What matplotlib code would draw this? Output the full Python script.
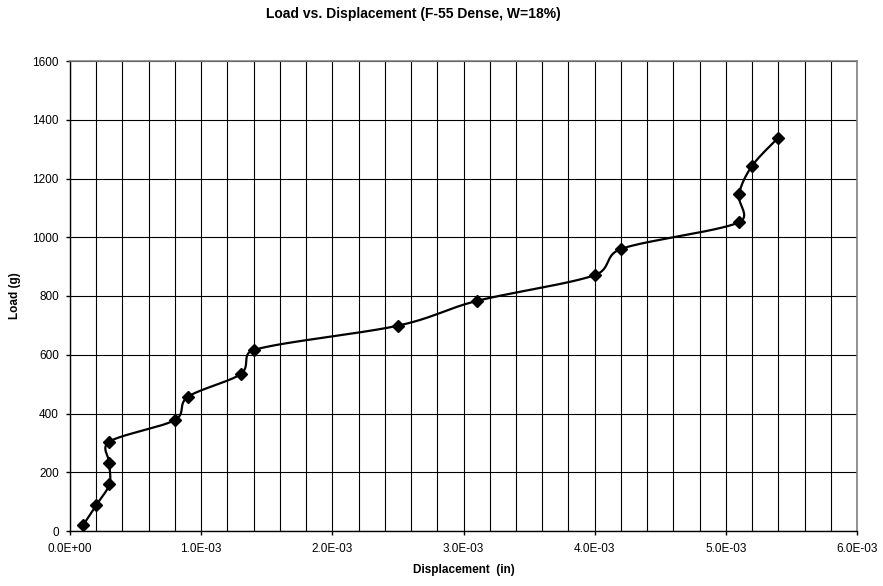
import numpy as np
import matplotlib
matplotlib.use("Agg")
import matplotlib.pyplot as plt
from matplotlib.ticker import MultipleLocator, FuncFormatter

plt.rcParams['font.family'] = ['Liberation Sans', 'DejaVu Sans']

displacement = [0.1e-3, 0.2e-3, 0.3e-3, 0.3e-3, 0.3e-3, 0.8e-3, 0.9e-3, 1.3e-3,
                1.4e-3, 2.5e-3, 3.1e-3, 4.0e-3, 4.2e-3, 5.1e-3, 5.1e-3, 5.2e-3, 5.4e-3]
load = [20, 88, 159, 230, 304, 378, 457, 534, 616, 699, 783, 871, 960,
        1051, 1147, 1243, 1339]

title = "Load vs. Displacement (F-55 Dense, W=18%)"
xlabel = "Displacement  (in)"
ylabel = "Load (g)"

fig = plt.figure(figsize=(8.83, 5.86), dpi=100)
W, H = 883, 586
ax = fig.add_axes([70 / W, 1 - 531 / H, (857 - 70) / W, (531 - 61) / H])

ax.set_xlim(0, 6e-3)
ax.set_ylim(0, 1600)
ax.xaxis.set_major_locator(MultipleLocator(1e-3))
ax.xaxis.set_minor_locator(MultipleLocator(0.2e-3))
ax.yaxis.set_major_locator(MultipleLocator(200))
ax.xaxis.set_major_formatter(FuncFormatter(lambda v, p: "0.0E+00" if abs(v) < 1e-12 else f"{v:.1E}"))

ax.grid(True, which='major', color='black', linewidth=0.8)
ax.grid(True, which='minor', axis='x', color='black', linewidth=0.8)
ax.set_axisbelow(True)
ax.tick_params(axis='both', which='major', direction='out', length=3, width=1,
               labelsize=8.5, colors='black')
ax.tick_params(axis='x', which='major', pad=6)
ax.tick_params(axis='y', which='major', pad=5)
ax.tick_params(axis='x', which='minor', length=0)
for s in ('top', 'right'):
    ax.spines[s].set_color('#808080')
    ax.spines[s].set_linewidth(1.2)
for s in ('left', 'bottom'):
    ax.spines[s].set_color('black')
    ax.spines[s].set_linewidth(1.0)

# Smoothed curve: Bezier segments in screen space; each handle is a sixth of
# the neighbour-to-neighbour chord, capped at half the segment length
fig.canvas.draw()
pts = ax.transData.transform(np.column_stack([displacement, load]))
n = len(pts)
curve = [pts[0]]
t = np.linspace(0, 1, 40)[1:]


def capped(vec, limit):
    length = np.hypot(*vec)
    if length > limit and length > 0:
        return vec * (limit / length)
    return vec


for i in range(n - 1):
    p0 = pts[i - 1] if i > 0 else pts[i]
    p1 = pts[i]
    p2 = pts[i + 1]
    p3 = pts[i + 2] if i + 2 < n else pts[i + 1]
    seg_len = np.hypot(*(p2 - p1))
    c1 = p1 + capped((p2 - p0) / 6.0, seg_len / 2.0)
    c2 = p2 - capped((p3 - p1) / 6.0, seg_len / 2.0)
    seg = ((1 - t) ** 3)[:, None] * p1 + (3 * (1 - t) ** 2 * t)[:, None] * c1 \
        + (3 * (1 - t) * t ** 2)[:, None] * c2 + (t ** 3)[:, None] * p2
    curve.extend(seg)
curve = ax.transData.inverted().transform(np.array(curve))
ax.plot(curve[:, 0], curve[:, 1], color='black', linewidth=1.6, zorder=3)
ax.plot(displacement, load, linestyle='none', marker='D', markersize=6,
        color='black', zorder=4)

ax.set_xlabel(xlabel, fontsize=8.5, fontweight='bold', labelpad=6)
ax.set_ylabel(ylabel, fontsize=8.5, fontweight='bold', labelpad=8)
fig.text(413 / W, 1 - 14 / H, title, ha='center', va='center',
         fontsize=10, fontweight='bold')

fig.savefig("out.png", dpi=100)
